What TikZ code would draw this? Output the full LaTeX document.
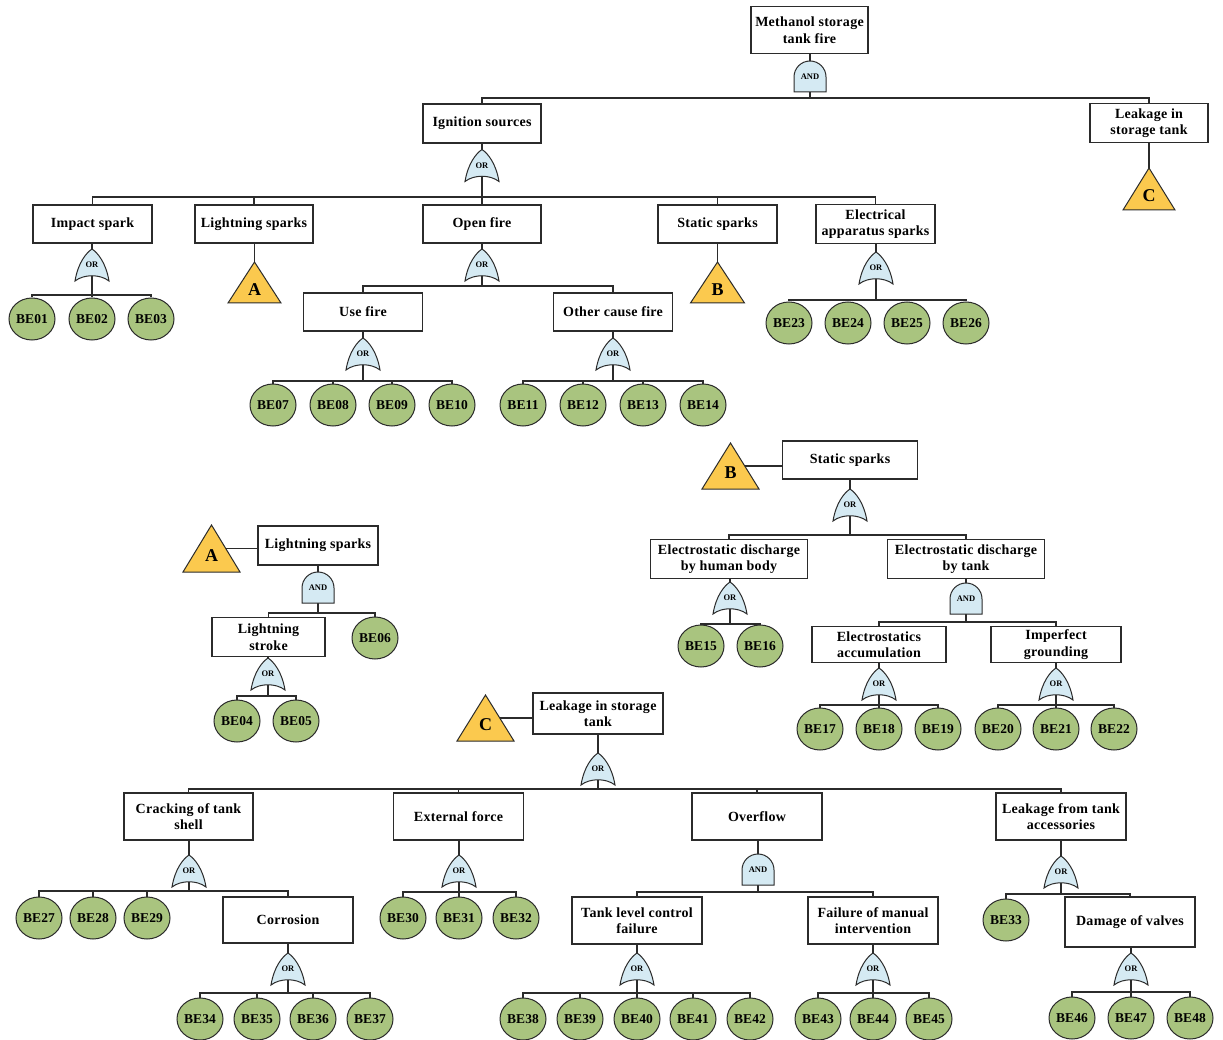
\documentclass[tikz,border=0pt]{standalone}
\usepackage{fontspec}
\setmainfont{Liberation Serif}
\usetikzlibrary{shapes.geometric,calc}
\pgfdeclarelayer{bg}
\pgfdeclarelayer{shapes}
\pgfsetlayers{bg,shapes,main}
\definecolor{linecol}{HTML}{2B2B2B}
\definecolor{befill}{HTML}{A9C47F}
\definecolor{gatefill}{HTML}{D5EAF3}
\definecolor{trifill}{HTML}{FBC94E}
\newcommand\boxfont{\bfseries\fontsize{14}{16.5}\selectfont\addfontfeature{LetterSpace=2}}
\newcommand\befont{\bfseries\fontsize{13.5}{14}\selectfont\addfontfeature{LetterSpace=1}}
\newcommand\gatefont{\bfseries\fontsize{8.5}{9}\selectfont}
\newcommand\trifont{\bfseries\fontsize{18}{18}\selectfont}
\newcommand\fan[3]{\coordinate (busy) at (0,#2);
  \foreach \ch in {#3}{\draw[conn] (#1.center) -- (#1.center |- busy) -| (\ch.north);}}
\newcommand\stem[2]{\draw[conn] (#2.center) -- (#2.center |- #1.south);}
\newcommand\side[2]{\draw[conn] (#2.center) -- (#2.center -| #1.west);}
\newcommand\orshape[1]{%
  \filldraw[gateshape] ([shift={(0pt,16pt)}]#1.center)
  .. controls ([shift={(-6pt,12pt)}]#1.center) and ([shift={(-14pt,2pt)}]#1.center) .. ([shift={(-17pt,-16pt)}]#1.center)
  .. controls ([shift={(-8pt,-9pt)}]#1.center) and ([shift={(8pt,-9pt)}]#1.center) .. ([shift={(17pt,-16pt)}]#1.center)
  .. controls ([shift={(14pt,2pt)}]#1.center) and ([shift={(6pt,12pt)}]#1.center) .. ([shift={(0pt,16pt)}]#1.center) -- cycle;}
\newcommand\andshape[1]{%
  \filldraw[gateshape] ([shift={(-16pt,-15pt)}]#1.center) -- ([shift={(-16pt,0pt)}]#1.center)
  arc[start angle=180, end angle=0, radius=16pt] -- ([shift={(16pt,-15pt)}]#1.center) -- cycle;}
\newcommand\trishape[3]{%
  \filldraw[trishape] ([shift={(0pt,#3*0.5pt)}]#1.center) -- ([shift={(#2*0.5pt,-#3*0.5pt)}]#1.center)
  -- ([shift={(-#2*0.5pt,-#3*0.5pt)}]#1.center) -- cycle;}
\begin{document}
\begin{tikzpicture}[x=1pt,y=-1pt,
  conn/.style={draw=linecol, line width=1.2pt},
  gateshape/.style={fill=gatefill, draw=linecol, line width=1pt},
  trishape/.style={fill=trifill, draw=linecol, line width=1pt},
  ev/.style 2 args={draw=linecol, line width=1.1pt, fill=white, minimum width=#1pt, minimum height=#2pt, inner sep=1pt, align=center, font=\boxfont},
  be/.style={ellipse, draw=linecol, line width=1pt, fill=befill, minimum width=46pt, minimum height=42pt, inner sep=0pt, font=\befont},
  gatenode/.style={minimum width=34pt, minimum height=32pt, inner sep=0pt, outer sep=0pt, font=\gatefont},
  trinode/.style 2 args={minimum width=#1pt, minimum height=#2pt, inner sep=0pt, outer sep=0pt},
  trilabel/.style={label={[font=\trifont, yshift=-7pt]center:#1}}
]
\begin{pgfonlayer}{bg}
\fill[white] (0,0) rectangle (1223,1040);
\end{pgfonlayer}
\useasboundingbox (0,0) rectangle (1223,1040);

% ---------- main tree ----------
\node[ev={117}{47}] (top) at (809.5,30) {Methanol storage\\tank fire};
\node[gatenode] (g0) at (810,77) {AND};
\node[ev={118}{39}] (ign) at (482,123.5) {Ignition sources};
\node[ev={118}{39}] (leak) at (1149,123) {Leakage in\\storage tank};
\node[trinode={52}{42}, trilabel=C] (tC1) at (1149,189) {};
\node[gatenode] (gIgn) at (482,165.5) {OR};
\node[ev={119}{38}] (imp) at (92.5,224) {Impact spark};
\node[ev={118}{38}] (lsp) at (254,224) {Lightning sparks};
\node[ev={118}{38}] (opf) at (482,224) {Open fire};
\node[ev={119}{38}] (sts) at (717.5,224) {Static sparks};
\node[ev={119}{39}] (ele) at (875.5,224) {Electrical\\apparatus sparks};
\node[trinode={53}{41}, trilabel=A] (tA1) at (254.5,282.5) {};
\node[trinode={54}{41}, trilabel=B] (tB1) at (717.5,282.5) {};

\node[gatenode] (gImp) at (92,265) {OR};
\node[be] (be01) at (32,319) {BE01};
\node[be] (be02) at (92,319) {BE02};
\node[be] (be03) at (151,319) {BE03};

\node[gatenode] (gOpf) at (482,265) {OR};
\node[ev={119}{38}] (usef) at (363,312) {Use fire};
\node[ev={119}{38}] (othf) at (613,312) {Other cause fire};
\node[gatenode] (gUse) at (363,354) {OR};
\node[gatenode] (gOth) at (613,354) {OR};
\node[be] (be07) at (273,405) {BE07};
\node[be] (be08) at (333,405) {BE08};
\node[be] (be09) at (392,405) {BE09};
\node[be] (be10) at (452,405) {BE10};
\node[be] (be11) at (523,405) {BE11};
\node[be] (be12) at (583,405) {BE12};
\node[be] (be13) at (643,405) {BE13};
\node[be] (be14) at (703,405) {BE14};

\node[gatenode] (gEle) at (876,268) {OR};
\node[be] (be23) at (789,323) {BE23};
\node[be] (be24) at (848,323) {BE24};
\node[be] (be25) at (907,323) {BE25};
\node[be] (be26) at (966,323) {BE26};

% ---------- B: static sparks ----------
\node[trinode={57}{46}, trilabel=B] (tB2) at (730.5,466) {};
\node[ev={135}{38}] (ss2) at (850,460) {Static sparks};
\node[gatenode] (gSs) at (850,505) {OR};
\node[ev={157}{39}] (edh) at (729,559) {Electrostatic discharge\\by human body};
\node[ev={157}{39}] (edt) at (966,559) {Electrostatic discharge\\by tank};
\node[gatenode] (gEdh) at (730,598) {OR};
\node[be] (be15) at (701,646) {BE15};
\node[be] (be16) at (760,646) {BE16};
\node[gatenode] (gEdt) at (966,599) {AND};
\node[ev={134}{36}] (eacc) at (879,644.5) {Electrostatics\\accumulation};
\node[ev={130}{36}] (impg) at (1056,644.5) {Imperfect\\grounding};
\node[gatenode] (gEacc) at (879,684) {OR};
\node[gatenode] (gImpg) at (1056,684) {OR};
\node[be] (be17) at (820,729) {BE17};
\node[be] (be18) at (879,729) {BE18};
\node[be] (be19) at (938,729) {BE19};
\node[be] (be20) at (998,729) {BE20};
\node[be] (be21) at (1056,729) {BE21};
\node[be] (be22) at (1114,729) {BE22};

% ---------- A: lightning sparks ----------
\node[trinode={57}{47}, trilabel=A] (tA2) at (211.5,548.5) {};
\node[ev={120}{39}] (ls2) at (318,545.5) {Lightning sparks};
\node[gatenode] (gLs) at (318,588) {AND};
\node[ev={113}{39}] (lst) at (268.5,637) {Lightning\\stroke};
\node[be] (be06) at (375,638) {BE06};
\node[gatenode] (gLst) at (268,674) {OR};
\node[be] (be04) at (237,721) {BE04};
\node[be] (be05) at (296,721) {BE05};

% ---------- C: leakage ----------
\node[trinode={57}{46}, trilabel=C] (tC2) at (485.5,718) {};
\node[ev={130}{41}] (lk2) at (598,713.5) {Leakage in storage\\tank};
\node[gatenode] (gLk) at (598,769) {OR};
\node[ev={129}{47}] (crk) at (188.5,816.5) {Cracking of tank\\shell};
\node[ev={130}{47}] (ext) at (458.5,816.5) {External force};
\node[ev={130}{47}] (ovf) at (757,816.5) {Overflow};
\node[ev={130}{47}] (lta) at (1061,816.5) {Leakage from tank\\accessories};

\node[gatenode] (gCrk) at (189,871) {OR};
\node[be] (be27) at (39,918) {BE27};
\node[be] (be28) at (93,918) {BE28};
\node[be] (be29) at (147,918) {BE29};
\node[ev={130}{46}] (cor) at (288,920) {Corrosion};
\node[gatenode] (gCor) at (288,969) {OR};
\node[be] (be34) at (200,1019) {BE34};
\node[be] (be35) at (257,1019) {BE35};
\node[be] (be36) at (313,1019) {BE36};
\node[be] (be37) at (370,1019) {BE37};

\node[gatenode] (gExt) at (459,871) {OR};
\node[be] (be30) at (403,918) {BE30};
\node[be] (be31) at (459,918) {BE31};
\node[be] (be32) at (516,918) {BE32};

\node[gatenode] (gOvf) at (758,870) {AND};
\node[ev={130}{47}] (tlc) at (637,920.5) {Tank level control\\failure};
\node[ev={130}{47}] (fmi) at (873,920.5) {Failure of manual\\intervention};
\node[gatenode] (gTlc) at (637,969) {OR};
\node[gatenode] (gFmi) at (873,969) {OR};
\node[be] (be38) at (523,1019) {BE38};
\node[be] (be39) at (580,1019) {BE39};
\node[be] (be40) at (637,1019) {BE40};
\node[be] (be41) at (693,1019) {BE41};
\node[be] (be42) at (750,1019) {BE42};
\node[be] (be43) at (818,1019) {BE43};
\node[be] (be44) at (873,1019) {BE44};
\node[be] (be45) at (929,1019) {BE45};

\node[gatenode] (gLta) at (1061,872) {OR};
\node[be] (be33) at (1006,920) {BE33};
\node[ev={130}{50}] (dov) at (1130,922) {Damage of valves};
\node[gatenode] (gDov) at (1131,969) {OR};
\node[be] (be46) at (1072,1018) {BE46};
\node[be] (be47) at (1131,1018) {BE47};
\node[be] (be48) at (1190,1018) {BE48};

% ---------- gate and transfer symbols ----------
\begin{pgfonlayer}{shapes}
\foreach \g in {gIgn,gImp,gOpf,gUse,gOth,gEle,gSs,gEdh,gEacc,gImpg,gLst,gLk,gCrk,gCor,gExt,gTlc,gFmi,gLta,gDov}{\orshape{\g}}
\foreach \g in {g0,gEdt,gLs,gOvf}{\andshape{\g}}
\trishape{tC1}{52}{42}
\trishape{tA1}{53}{41}
\trishape{tB1}{54}{41}
\trishape{tB2}{57}{46}
\trishape{tA2}{57}{47}
\trishape{tC2}{57}{46}
\end{pgfonlayer}

% ---------- connectors ----------
\begin{pgfonlayer}{bg}
\stem{top}{g0}
\fan{g0}{98}{ign,leak}
\stem{ign}{gIgn}
\fan{gIgn}{197}{imp,lsp,opf,sts,ele}
\stem{leak}{tC1}
\stem{lsp}{tA1}
\stem{sts}{tB1}
\stem{imp}{gImp}
\fan{gImp}{295}{be01,be02,be03}
\stem{opf}{gOpf}
\fan{gOpf}{286}{usef,othf}
\stem{usef}{gUse}
\fan{gUse}{381}{be07,be08,be09,be10}
\stem{othf}{gOth}
\fan{gOth}{381}{be11,be12,be13,be14}
\stem{ele}{gEle}
\fan{gEle}{300}{be23,be24,be25,be26}

\side{ss2}{tB2}
\stem{ss2}{gSs}
\fan{gSs}{535}{edh,edt}
\stem{edh}{gEdh}
\fan{gEdh}{624}{be15,be16}
\stem{edt}{gEdt}
\fan{gEdt}{622}{eacc,impg}
\stem{eacc}{gEacc}
\fan{gEacc}{705}{be17,be18,be19}
\stem{impg}{gImpg}
\fan{gImpg}{705}{be20,be21,be22}

\side{ls2}{tA2}
\stem{ls2}{gLs}
\fan{gLs}{613}{lst,be06}
\stem{lst}{gLst}
\fan{gLst}{696}{be04,be05}

\side{lk2}{tC2}
\stem{lk2}{gLk}
\fan{gLk}{789}{crk,ext,ovf,lta}
\stem{crk}{gCrk}
\fan{gCrk}{891}{be27,be28,be29,cor}
\stem{cor}{gCor}
\fan{gCor}{993}{be34,be35,be36,be37}
\stem{ext}{gExt}
\fan{gExt}{892}{be30,be31,be32}
\stem{ovf}{gOvf}
\fan{gOvf}{892}{tlc,fmi}
\stem{tlc}{gTlc}
\fan{gTlc}{993}{be38,be39,be40,be41,be42}
\stem{fmi}{gFmi}
\fan{gFmi}{993}{be43,be44,be45}
\stem{lta}{gLta}
\fan{gLta}{894}{be33,dov}
\stem{dov}{gDov}
\fan{gDov}{992}{be46,be47,be48}
\end{pgfonlayer}
\end{tikzpicture}
\end{document}
